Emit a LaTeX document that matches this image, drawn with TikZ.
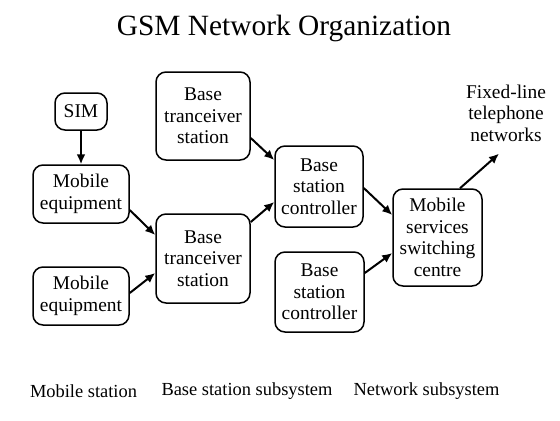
\documentclass[tikz,border=0pt]{standalone}
\usepackage{fontspec}
\setmainfont{Liberation Serif}
\usetikzlibrary{arrows.meta}
\begin{document}
\begin{tikzpicture}[x=1bp,y=-1bp,
  box/.style={draw, line width=1.5bp, rounded corners=10bp, align=center, inner sep=0pt,
    font=\fontsize{19.5}{21.7}\selectfont},
  lbl/.style={inner sep=0pt, align=center, font=\fontsize{19.5}{21.7}\selectfont},
  arr/.style={line width=2bp, -{Latex[length=10bp,width=9bp]}}]
\useasboundingbox (0,0) rectangle (560,420);
\node[inner sep=0pt, font=\fontsize{29.5}{32}\selectfont] (title) at (284,28) {GSM Network Organization};
\node[box, minimum width=52bp, minimum height=37bp] (sim) at (81,111.5) {SIM};
\node[box, minimum width=96bp, minimum height=58bp] (me1) at (81,194) {Mobile\\equipment};
\node[box, minimum width=96bp, minimum height=58bp] (me2) at (81,296) {Mobile\\equipment};
\node[box, minimum width=94bp, minimum height=88bp] (bts1) at (203,116) {Base\\tranceiver\\station};
\node[box, minimum width=94bp, minimum height=89bp] (bts2) at (203,258.5) {Base\\tranceiver\\station};
\node[box, minimum width=88bp, minimum height=81bp] (bsc1) at (319,186.5) {Base\\station\\controller};
\node[box, minimum width=89bp, minimum height=80bp] (bsc2) at (319.5,292) {Base\\station\\controller};
\node[box, minimum width=89bp, minimum height=97bp] (msc) at (437.5,237.5) {Mobile\\services\\switching\\centre};
\node[lbl] (fixed) at (506,113) {Fixed-line\\telephone\\networks};
\node[inner sep=0pt, font=\fontsize{18.5}{20}\selectfont] (ms) at (83.5,391) {Mobile station};
\node[inner sep=0pt, font=\fontsize{18.5}{20}\selectfont] (bss) at (247,391) {Base station subsystem};
\node[inner sep=0pt, font=\fontsize{18.5}{20}\selectfont] (nss) at (426.5,391) {Network subsystem};
\draw[arr] (sim.south) -- (me1.north);
\draw[arr] ([yshift=-16bp]me1.east) -- ([yshift=23.5bp]bts2.west);
\draw[arr] ([yshift=3bp]me2.east) -- ([yshift=-14.5bp]bts2.west);
\draw[arr] ([yshift=-22bp]bts1.east) -- ([yshift=26.5bp]bsc1.west);
\draw[arr] ([yshift=36.5bp]bts2.east) -- ([yshift=-15.5bp]bsc1.west);
\draw[arr] ([yshift=-1.5bp]bsc1.east) -- ([yshift=22.5bp]msc.west);
\draw[arr] ([yshift=19bp]bsc2.east) -- ([yshift=-15.5bp]msc.west);
\draw[arr] ([xshift=22.5bp]msc.north) -- ([xshift=-7bp,yshift=-12bp]fixed.south);
\end{tikzpicture}
\end{document}
